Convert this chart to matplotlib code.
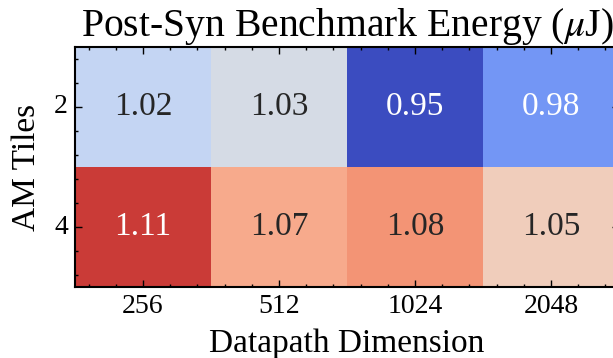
import numpy as np
import pandas as pd
import matplotlib
matplotlib.use("Agg")
import matplotlib.pyplot as plt
import seaborn as sns
from matplotlib.ticker import AutoMinorLocator

dims = ["256", "512", "1024", "2048"]
tiles = ["2", "4"]
energy_2 = [1.02, 1.03, 0.95, 0.98]
energy_4 = [1.11, 1.07, 1.08, 1.05]

plt.rcParams["font.family"] = "Liberation Serif"
plt.rcParams["mathtext.fontset"] = "stix"

df = pd.DataFrame([energy_2, energy_4], index=tiles, columns=dims)

fig = plt.figure(figsize=(6.13, 3.58), dpi=100)
ax = fig.add_axes([0.1223, 0.198, 0.8875, 0.671])
sns.heatmap(df, ax=ax, cmap="coolwarm", vmin=0.95, vmax=1.12,
            annot=True, fmt=".2f", cbar=False, annot_kws={"fontsize": 24})

for s in ax.spines.values():
    s.set_visible(True)
    s.set_linewidth(1.5)
    s.set_color("black")

ax.xaxis.set_minor_locator(AutoMinorLocator(5))
ax.yaxis.set_minor_locator(AutoMinorLocator(5))
ax.tick_params(which="both", direction="in", top=True, right=True,
               bottom=True, left=True, width=1.0)
ax.tick_params(which="major", length=5, labelsize=20, pad=5)
ax.tick_params(which="minor", length=2.5)
ax.tick_params(axis="y", labelrotation=0)

ax.set_title(r"Post-Syn Benchmark Energy ($\mu$J)", fontsize=28.5, pad=5)
ax.set_xlabel("Datapath Dimension", fontsize=24, labelpad=7)
ax.set_ylabel("AM Tiles", fontsize=24, labelpad=9)

fig.savefig("out.png", dpi=100)
